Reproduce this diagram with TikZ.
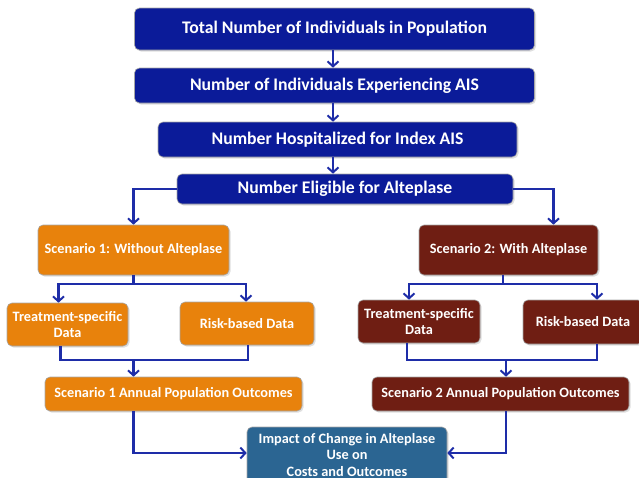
\documentclass[tikz,border=0pt]{standalone}
\usepackage{fontspec}
\setmainfont{Carlito}
\usetikzlibrary{positioning,shapes,arrows,arrows.meta,shadows}

\definecolor{navybox}{HTML}{0B1B99}
\definecolor{orangebox}{HTML}{E8820C}
\definecolor{redbox}{HTML}{6F1E13}
\definecolor{tealbox}{HTML}{2B6592}
\definecolor{flowline}{HTML}{1E2DA8}

\begin{document}
\begin{tikzpicture}[x=1pt, y=-1pt,
    block/.style={rectangle, draw=black!35, line width=0.6pt, rounded corners=5pt, align=center,
        text=white, font=\bfseries, inner sep=2pt,
        drop shadow={shadow xshift=1.5pt, shadow yshift=-1.5pt, opacity=0.25}},
    bigblock/.style={block, fill=navybox, font=\fontsize{17.7}{20}\selectfont\bfseries},
    smallblock/.style={block, font=\fontsize{14.3}{16.5}\selectfont\bfseries},
    arrow/.style={->, >={Straight Barb[length=5pt, width=11pt, line width=2pt]}, flowline, line width=2.2pt},
    link/.style={flowline, line width=2.2pt}]

    \useasboundingbox (0,0) rectangle (639,477);

    % Population funnel
    \node[bigblock, minimum width=400pt, minimum height=42pt] (total) at (334.5,29) {Total Number of Individuals in Population};
    \node[bigblock, minimum width=400pt, minimum height=35pt] (ais) at (334.5,85.5) {Number of Individuals Experiencing AIS};
    \node[bigblock, minimum width=359pt, minimum height=35pt] (hosp) at (337.5,139.5) {Number Hospitalized for Index AIS};
    \node[bigblock, minimum width=336pt, minimum height=30pt] (eligible) at (345,189) {Number Eligible for Alteplase};

    % Scenario 1
    \node[smallblock, fill=orangebox, minimum width=191pt, minimum height=50pt] (scen1) at (133.5,250) {Scenario 1: Without Alteplase};
    \node[smallblock, fill=orangebox, minimum width=121pt, minimum height=43pt] (treat1) at (67.5,324.5) {Treatment-specific\\Data};
    \node[smallblock, fill=orangebox, minimum width=134pt, minimum height=43pt] (risk1) at (247,323.5) {Risk-based Data};
    \node[smallblock, fill=orangebox, minimum width=257pt, minimum height=34pt] (out1) at (173.5,394) {Scenario 1 Annual Population Outcomes};

    % Scenario 2
    \node[smallblock, fill=redbox, minimum width=179pt, minimum height=50pt] (scen2) at (508.5,250) {Scenario 2: With Alteplase};
    \node[smallblock, fill=redbox, minimum width=122pt, minimum height=43pt] (treat2) at (419,321.5) {Treatment-specific\\Data};
    \node[smallblock, fill=redbox, minimum width=120pt, minimum height=44pt] (risk2) at (583,322) {Risk-based Data};
    \node[smallblock, fill=redbox, minimum width=257pt, minimum height=34pt] (out2) at (500.5,394) {Scenario 2 Annual Population Outcomes};

    % Comparison
    \node[smallblock, fill=tealbox, minimum width=200pt, minimum height=56pt] (impact) at (347,455)
        {Impact of Change in Alteplase\\Use on\\Costs and Outcomes};

    % Split and join points
    \coordinate (split1) at (133.5,284);
    \coordinate (join1) at (133.5,360);
    \coordinate (split2) at (503,284);
    \coordinate (join2) at (506,360);

    % Connect funnel
    \draw[arrow] (total.south -| 333,0) -- (ais.north -| 333,0);
    \draw[arrow] (ais.south -| 333,0) -- (hosp.north -| 333,0);
    \draw[arrow] (hosp.south -| 333,0) -- (eligible.north -| 333,0);
    \draw[arrow] (eligible.west) -| (scen1.north);
    \draw[arrow] (eligible.east) -| ([xshift=45pt]scen2.north);

    % Scenario 1 branches
    \draw[link] (scen1.south) -- (split1);
    \draw[arrow] (split1) -| ([xshift=-9pt]treat1.north);
    \draw[arrow] (split1) -| ([xshift=-1pt]risk1.north);
    \draw[link] ([xshift=-7pt]treat1.south) |- (join1) -| ([xshift=1pt]risk1.south);
    \draw[arrow] (join1) -- (join1 |- out1.north);
    \draw[arrow] (out1.south -| join1) |- ([yshift=2pt]impact.west);

    % Scenario 2 branches
    \draw[link] (scen2.south -| split2) -- (split2);
    \draw[arrow] (split2) -| ([xshift=-10pt]treat2.north);
    \draw[arrow] (split2) -| ([xshift=14pt]risk2.north);
    \draw[link] ([xshift=-12pt]treat2.south) |- (join2) -| ([xshift=14pt]risk2.south);
    \draw[arrow] (join2) -- (join2 |- out2.north);
    \draw[arrow] (out2.south -| join2) |- ([yshift=2pt]impact.east);
\end{tikzpicture}
\end{document}
